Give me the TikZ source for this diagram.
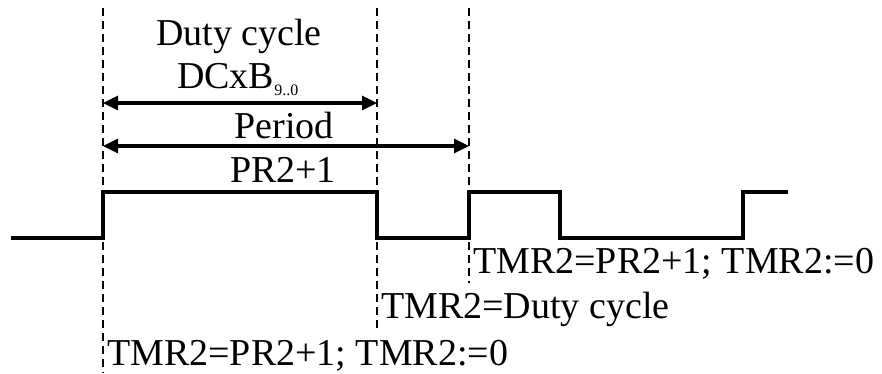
\documentclass[tikz,border=0pt]{standalone}
\usepackage{fontspec}
\setmainfont{Liberation Serif}
\usetikzlibrary{arrows.meta}

\begin{document}
\begin{tikzpicture}[
    x=1pt, y=-1pt,
    font=\fontsize{38}{42}\selectfont,
    %% Edge positions:  x = 103 (period start)  377 (duty end)  469 (period end)
    %% Levels:          y = 192 (high)  238 (low)
    guide/.style={draw=black, line width=1.5pt, dash pattern=on 8pt off 5pt},
    wave/.style={draw=black, line width=4.5pt},
    span/.style={draw=black, line width=3.2pt,
                 {Triangle[length=15pt,width=14pt]}-{Triangle[length=15pt,width=14pt]}},
    lbl/.style={inner sep=0pt, anchor=base},
    note/.style={inner sep=0pt, anchor=base west},
]
\useasboundingbox (0,0) rectangle (882,373);

%% ── Guide lines ──────────────────────────────────────────────────────────
\coordinate (t1) at (103,8);  \coordinate (b1) at (103,373);
\coordinate (t2) at (377,8);  \coordinate (b2) at (377,328);
\coordinate (t3) at (469,8);  \coordinate (b3) at (469,283);
\draw[guide] (t1) -- (b1);
\draw[guide] (t2) -- (b2);
\draw[guide] (t3) -- (b3);

%% ── Spans ────────────────────────────────────────────────────────────────
\coordinate (dutyL) at (103,103);   \coordinate (dutyR) at (377,103);
\coordinate (perL)  at (103,146);   \coordinate (perR)  at (469,146);
\draw[span] (dutyL) -- (dutyR);
\draw[span] (perL) -- (perR);

\node[lbl]  (duty)   at (239,45)  {Duty cycle};
\node[note] (dcxb)   at (177,88)  {DCxB\raisebox{-7pt}{\fontsize{16}{17}\selectfont 9..0}};
\node[lbl]  (period) at (284,138) {Period};
\node[lbl]  (prone)  at (283,182) {PR2+1};

%% ── PWM waveform ─────────────────────────────────────────────────────────
\draw[wave] (11,238) -- (103,238) -- (103,192) -- (377,192) -- (377,238)
    -- (469,238) -- (469,192) -- (560,192) -- (560,238) -- (743,238)
    -- (743,192) -- (788,192);

%% ── Timer events ─────────────────────────────────────────────────────────
\node[note] (evper)  at (473,273) {TMR2=PR2+1; TMR2:=0};
\node[note] (evduty) at (381,318) {TMR2=Duty cycle};
\node[note] (evrst)  at (107,365) {TMR2=PR2+1; TMR2:=0};

\end{tikzpicture}
\end{document}
